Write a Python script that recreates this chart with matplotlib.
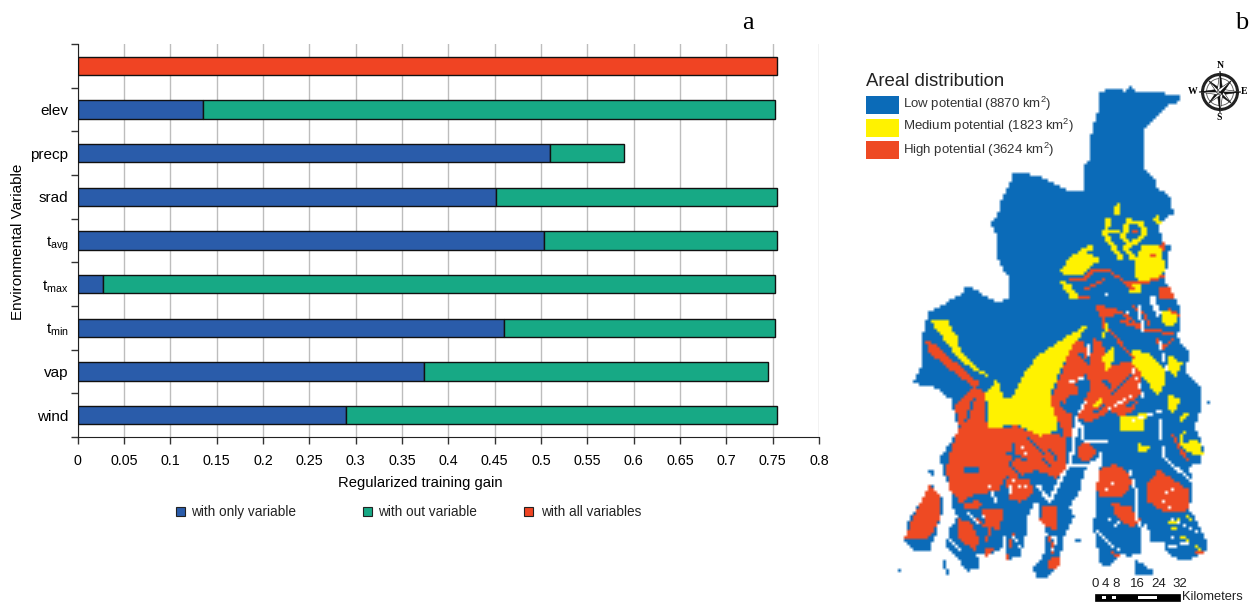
#!/usr/bin/env python3
"""Jackknife of regularized training gain (a) and areal potential map (b)."""
import numpy as np
import matplotlib
matplotlib.use('Agg')
import matplotlib.pyplot as plt
from matplotlib.patches import Rectangle, Circle, Polygon
from matplotlib.path import Path

plt.rcParams['font.family'] = ['Liberation Sans', 'DejaVu Sans']
plt.rcParams['mathtext.default'] = 'regular'

# --- panel a
variables = ['', 'elev', 'precp', 'srad', 't$_{avg}$', 't$_{max}$', 't$_{min}$', 'vap', 'wind']
only_gain = [0, 0.135, 0.51, 0.452, 0.503, 0.027, 0.46, 0.374, 0.29]
without_gain = [0, 0.617, 0.08, 0.303, 0.252, 0.725, 0.292, 0.371, 0.465]
all_gain = [0.755, 0, 0, 0, 0, 0, 0, 0, 0]
gain_ticks = [0, 0.05, 0.1, 0.15, 0.2, 0.25, 0.3, 0.35, 0.4, 0.45, 0.5, 0.55, 0.6, 0.65, 0.7, 0.75, 0.8]
gain_labels = ['0', '0.05', '0.1', '0.15', '0.2', '0.25', '0.3', '0.35', '0.4', '0.45', '0.5',
               '0.55', '0.6', '0.65', '0.7', '0.75', '0.8']

BLUE_BAR, GREEN_BAR, RED_BAR = '#2a5caa', '#17a985', '#f04423'

# --- panel b, traced from two crops of the map: "n" crop origin (850, 50), "s" crop origin (880, 320),
# both at 3x, so the numbers are easy to compare with a zoomed picture
n_outline = [(745,125),(800,115),(830,128),(835,105),(860,125),(930,125),(965,140),(985,130),(990,155),(960,165),
             (940,185),(910,215),(885,240),(885,360),(915,385),(920,410),(960,440),(970,490),(925,520),(935,570),
             (960,590),(950,650),(945,690),(985,760),(990,820)]
s_outline = [(905,10),(890,50),(930,100),(915,150),(965,210),(965,265),(945,320),(970,380),(965,425),(930,440),
             (935,500),(930,570),(985,670),(985,690),(950,710),(910,725),(860,700),(855,670),(815,670),(800,610),
             (780,640),(780,700),(750,710),(720,700),(690,740),(660,730),(650,670),(640,620),(650,540),(655,460),
             (670,410),(640,430),(615,450),(600,510),(570,560),(585,590),(550,650),(540,730),(500,770),(470,775),
             (460,740),(490,710),(500,640),(480,590),(470,540),(440,590),(440,640),(420,710),(380,720),(375,680),
             (340,700),(290,700),(300,745),(260,755),(230,710),(200,680),(205,630),(235,590),(215,560),(215,520),
             (195,470),(180,410),(210,370),(235,330),(225,290),(215,240),(160,200),(100,190),(130,120),(125,60)]
n_outline_left = [(235,785),(270,770),(335,730),(350,705),(400,735),(445,760),(475,745),(475,680),(440,625),
                  (440,560),(420,520),(440,505),(455,450),(480,400),(490,370),(560,375),(610,400),(660,425),
                  (700,420),(705,345),(720,330),(725,240),(745,180)]

s_reds = [
    [(225,260),(280,200),(310,210),(322,328),(410,318),(480,348),(520,340),(555,350),(555,420),(565,450),(530,475),
     (470,450),(390,480),(380,460),(360,510),(280,525),(240,550),(205,500),(200,440),(215,380),(240,320)],
    [(510,240),(550,150),(580,60),(615,65),(625,160),(595,180),(590,225),(565,225),(555,250),(575,290),(585,345),
     (555,350),(525,285)],
    [(618,160),(645,60),(665,60),(685,140),(720,125),(775,125),(785,200),(765,270),(720,290),(690,270),(650,300),
     (620,305),(590,290),(620,230),(635,200)],
    [(590,380),(620,360),(650,390),(630,425),(600,425)],
    [(660,450),(700,432),(740,450),(755,490),(725,535),(660,535),(650,500)],
    [(805,490),(835,450),(880,480),(930,510),(925,570),(860,580),(805,545)],
    [(690,545),(750,560),(785,600),(755,625),(710,590)],
    [(380,480),(450,480),(462,520),(420,548),(385,535)],
    [(235,595),(270,605),(302,660),(282,692),(232,650)],
    [(490,555),(532,555),(532,630),(500,622),(480,600)],
    [(305,570),(372,570),(358,635),(320,612)],
    [(500,718),(545,708),(532,748),(505,748)],
    [(135,60),(160,70),(230,130),(300,190),(280,205),(225,160),(150,100)],
    [(310,690),(340,680),(335,705),(315,708)],
    [(250,550),(310,540),(300,565),(260,570)],
]
n_reds = [
    [(925,715),(965,715),(972,748),(930,748)],
    [(740,768),(800,772),(795,800),(745,798)],
    [(935,570),(950,585),(945,605),(930,590)],
    [(900,610),(920,610),(920,625),(900,625)],
]
s_yellows = [
    [(318,215),(350,180),(375,240),(400,230),(425,170),(470,110),(530,70),(600,25),(628,8),(600,50),(570,90),
     (540,155),(508,232),(530,300),(535,332),(480,348),(410,315),(325,325)],
    [(150,0),(200,0),(230,50),(245,100),(300,150),(330,170),(310,165),(250,130),(215,90),(170,30)],
    [(760,90),(810,100),(850,140),(860,190),(830,225),(795,180),(760,130)],
    [(870,100),(905,130),(885,170),(860,150)],
    [(665,110),(700,80),(705,125),(680,150)],
    [(860,220),(900,240),(880,280),(860,260)],
    [(720,290),(800,280),(790,330),(720,330)],
    [(775,370),(810,380),(800,400),(770,395)],
    [(900,370),(955,360),(972,410),(930,400)],
    [(640,250),(665,235),(660,262),(642,265)],
]
n_yellows = [
    [(630,660),(660,625),(720,610),(750,630),(700,670),(650,680)],
    [(630,695),(660,700),(690,745),(660,745)],
    [(850,640),(880,580),(930,590),(945,650),(930,690),(890,700),(860,690)],
    [(930,780),(980,790),(975,830),(935,820)],
    [(830,700),(880,700),(870,725),(835,725)],
]
n_yellow_veins = [
    [(820,560),(835,515),(870,520),(888,540),(870,565),(840,585),(820,560)],
    [(775,510),(765,555),(790,590),(810,620)],
    [(800,490),(805,468)],
    [(660,630),(690,610),(720,595)],
    [(760,545),(800,545)],
    [(825,590),(850,625)],
    [(920,505),(925,515)],
]
s_yellow_veins = [
    [(870,610),(900,600)], [(905,650),(925,660)], [(900,300),(920,280)], [(910,340),(900,380)],
    [(680,15),(670,50)], [(925,590),(935,600)], [(950,680),(960,695)], [(870,630),(885,625)],
]
n_red_veins = [
    [(660,690),(700,690),(730,660),(780,665),(830,700),(850,720)],
    [(700,720),(760,690)],
    [(790,775),(830,800),(870,830)],
    [(830,700),(880,700),(940,680)],
    [(850,770),(880,790),(900,830)],
    [(960,780),(990,800)],
    [(845,548),(865,548)],
    [(690,745),(720,740)],
    [(755,790),(760,830)],
]
s_red_veins = [
    [(720,0),(770,20)], [(800,30),(880,40)], [(830,60),(850,90)], [(690,30),(730,80),(760,110)],
    [(880,350),(920,420)], [(840,90),(880,60)], [(640,60),(660,110)], [(945,700),(965,700)],
    [(270,590),(320,620)], [(340,600),(320,660)], [(400,640),(390,680)], [(520,700),(510,650)],
    [(715,710),(700,700)], [(380,710),(385,720)],
]
s_blue_veins = [
    [(250,450),(300,450)], [(380,400),(440,420)], [(440,350),(490,400)], [(510,390),(530,420)],
    [(545,250),(565,275)], [(590,190),(610,200)], [(670,180),(690,200)], [(640,280),(670,260)],
    [(390,430),(420,470)], [(260,300),(280,240)], [(700,220),(750,170)], [(280,535),(360,560)],
    [(770,350),(830,340)], [(600,100),(625,130)], [(700,130),(730,125)], [(230,170),(260,190)],
    [(400,370),(400,420)], [(490,420),(510,440)], [(740,260),(770,240)],
]
s_white_rivers = [
    ([(590,300),(580,380),(570,430),(540,480),(510,540),(475,500)], 4),
    ([(590,300),(610,330),(610,360),(680,365)], 3),
    ([(570,430),(600,440),(640,430)], 3),
    ([(175,440),(205,530),(205,580),(190,680)], 4),
    ([(840,300),(850,410),(930,480)], 2.5),
    ([(750,450),(770,520),(770,600),(800,640)], 2.5),
    ([(650,630),(700,680),(720,690)], 2),
    ([(370,640),(375,690)], 2),
    ([(260,570),(300,620)], 2),
    ([(400,480),(385,530)], 2),
    ([(330,500),(350,550)], 2),
    ([(620,240),(590,290)], 2),
    ([(680,270),(750,230)], 2),
    ([(760,150),(790,230)], 2),
    ([(630,60),(620,120)], 2),
    ([(760,300),(850,270)], 2),
    ([(210,660),(240,690)], 2),
    ([(560,190),(620,170)], 2),
    ([(840,70),(860,150)], 2),
    ([(720,600),(700,620)], 2),
    ([(880,600),(960,640)], 2),
    ([(870,680),(920,670)], 2),
    ([(400,650),(420,680)], 2),
    ([(530,650),(520,690)], 2),
]
n_white_rivers = [
    ([(870,770),(875,840)], 3),
    ([(905,745),(925,790)], 6),
]
s_white_bays = [
    [(640,430),(665,395),(650,460),(645,540),(640,620),(650,690),(660,800),(560,800),(540,740),(550,660),(590,590),
     (575,560),(610,490),(615,450)],
]
s_white_specks = [(820,520),(860,520),(880,510),(700,490),(720,480),(850,545),(900,545),(730,600),(690,600),
                  (440,400),(430,380),(740,190),(765,210),(790,260),(800,300),(520,650),(540,660),(250,640),(880,650),
                  (930,640),(900,680),(720,640),(650,170),(720,170),(780,180),(840,505),(890,510),(870,560),(680,510),
                  (710,515),(270,650),(310,590),(420,500),(440,500)]
n_white_specks = [(800,740),(910,750),(770,730),(830,790),(880,640),(780,540),(790,575)]
s_islands = [
    [(150,490),(185,530),(190,570),(165,650),(150,690),(100,695),(75,660),(80,610),(125,540)],
    [(770,720),(815,750),(820,768),(770,765),(760,740)],
    [(460,735),(490,730),(500,770),(470,775)],
]
s_island_red = [(150,495),(183,530),(180,590),(150,650),(110,660),(75,655),(100,590)]
s_blue_bits = [[(190,725),(205,760)], [(55,750),(60,750)], [(150,450),(160,465)], [(985,245),(990,245)], [(590,660),(595,660)]]

LOW_COLOR, MEDIUM_COLOR, HIGH_COLOR = '#0b6bb8', '#fff200', '#ee4a23'
potential_labels = ['Low potential (8870 km$^{2}$)', 'Medium potential (1823 km$^{2}$)', 'High potential (3624 km$^{2}$)']
scale_labels = ['0', '4', '8', '16', '24', '32']
scale_positions = [0, 4, 8, 16, 24, 32]


def n_px(pts):
    return [(850 + x / 3, 50 + y / 3) for x, y in pts]


def s_px(pts):
    return [(880 + x / 3, 320 + y / 3) for x, y in pts]


def fill_poly(grid, xx, yy, poly, code):
    inside = Path(poly).contains_points(np.column_stack([xx.ravel(), yy.ravel()])).reshape(xx.shape)
    grid[inside] = code


def stroke(grid, xx, yy, pts, width, code):
    if len(pts) == 1:
        pts = pts * 2
    for (x0, y0), (x1, y1) in zip(pts[:-1], pts[1:]):
        dx, dy = x1 - x0, y1 - y0
        t = np.clip(((xx - x0) * dx + (yy - y0) * dy) / max(dx * dx + dy * dy, 1e-6), 0, 1)
        grid[np.hypot(xx - x0 - t * dx, yy - y0 - t * dy) <= width / 2] = code


def potential_grid():
    cell = 3
    xs = np.arange(880, 1225, cell) + cell / 2
    ys = np.arange(80, 590, cell) + cell / 2
    xx, yy = np.meshgrid(xs, ys)
    grid = np.zeros(xx.shape, dtype=int)
    fill_poly(grid, xx, yy, n_px(n_outline) + s_px(s_outline) + n_px(n_outline_left), 1)
    for p in s_reds:
        fill_poly(grid, xx, yy, s_px(p), 3)
    for p in s_yellows:
        fill_poly(grid, xx, yy, s_px(p), 2)
    for p in n_yellows:
        fill_poly(grid, xx, yy, n_px(p), 2)
    for p in n_reds:
        fill_poly(grid, xx, yy, n_px(p), 3)
    for p in n_yellow_veins:
        stroke(grid, xx, yy, n_px(p), 5, 2)
    for p in s_yellow_veins:
        stroke(grid, xx, yy, s_px(p), 3, 2)
    for p in n_red_veins:
        stroke(grid, xx, yy, n_px(p), 3, 3)
    for p in s_red_veins:
        stroke(grid, xx, yy, s_px(p), 3, 3)
    for p in s_blue_veins:
        stroke(grid, xx, yy, s_px(p), 3, 1)
    for p in s_white_bays:
        fill_poly(grid, xx, yy, s_px(p), 0)
    for p, w in s_white_rivers:
        stroke(grid, xx, yy, s_px(p), w, 0)
    for p, w in n_white_rivers:
        stroke(grid, xx, yy, n_px(p), w, 0)
    for p in s_islands:
        fill_poly(grid, xx, yy, s_px(p), 1)
    fill_poly(grid, xx, yy, s_px(s_island_red), 3)
    for p in s_blue_bits:
        stroke(grid, xx, yy, s_px(p), 3, 1)
    for p in s_white_specks:
        stroke(grid, xx, yy, s_px([p]), 2.5, 0)
    for p in n_white_specks:
        stroke(grid, xx, yy, n_px([p]), 2.5, 0)
    return grid


def draw_gain(fig):
    ax = fig.add_axes([77.5 / 1256, 1 - 437 / 604, (819 - 77.5) / 1256, (437 - 44) / 604])
    y = np.arange(len(variables))
    h = 0.42
    ax.barh(y, only_gain, h, color=BLUE_BAR, edgecolor='#111111', linewidth=1, zorder=3)
    ax.barh(y, without_gain, h, left=only_gain, color=GREEN_BAR, edgecolor='#111111', linewidth=1, zorder=3)
    ax.barh(y[0], all_gain[0], h, color=RED_BAR, edgecolor='#111111', linewidth=1, zorder=3)
    ax.set_xlim(0, 0.8)
    ax.set_ylim(len(variables) - 0.5, -0.5)
    ax.set_xticks(gain_ticks)
    ax.set_xticklabels(gain_labels, fontsize=10.3)
    ax.set_yticks(np.arange(len(variables) + 1) - 0.5)
    ax.set_yticklabels([])
    ax.set_yticks(y, minor=True)
    ax.set_yticklabels(variables, minor=True, fontsize=11)
    ax.tick_params(axis='y', which='minor', length=0, pad=6.5)
    ax.tick_params(axis='y', which='major', length=5, width=1, color='#333333')
    ax.tick_params(axis='x', length=5, width=1, color='#333333', pad=7)
    ax.grid(axis='x', color='#bdbdbd', linewidth=1, zorder=0)
    ax.set_axisbelow(True)
    ax.spines['top'].set_visible(False)
    ax.spines['right'].set_visible(False)
    ax.spines['left'].set_color('#222222')
    ax.spines['bottom'].set_color('#222222')
    ax.set_xlabel('Regularized training gain', fontsize=10.6)
    ax.xaxis.set_label_coords((420 - 77.5) / (819 - 77.5), -39 / 393, transform=ax.transAxes)
    ax.set_ylabel('Environmental Variable', fontsize=11)
    ax.yaxis.set_label_coords(-53 / 741.5, (437 - 242) / 393, transform=ax.transAxes)


def draw_overlay(fig):
    ov = fig.add_axes([0, 0, 1, 1])
    ov.axis('off')
    ov.patch.set_alpha(0)

    ov.text(748, 23, 'a', family='Liberation Serif', fontsize=19, ha='center', va='center')
    ov.text(1242, 23, 'b', family='Liberation Serif', fontsize=19, ha='center', va='center')

    for x, tx, c, lab in [(176, 191, BLUE_BAR, 'with only variable'),
                          (362.5, 378, GREEN_BAR, 'with out variable'),
                          (524, 541, RED_BAR, 'with all variables')]:
        ov.add_patch(Rectangle((x, 507), 9, 9, facecolor=c, edgecolor='#222222', linewidth=0.8))
        ov.text(tx, 512, lab, fontsize=9.8, va='center', color='#222222')

    grid = potential_grid()
    palette = np.array([[255, 255, 255], [11, 107, 184], [255, 242, 0], [238, 74, 35]], dtype=np.uint8)
    ov.imshow(palette[grid], extent=(880, 880 + 3 * grid.shape[1], 80 + 3 * grid.shape[0], 80),
              interpolation='bilinear', aspect='auto', zorder=1)
    ov.set_xlim(0, 1256)
    ov.set_ylim(604, 0)

    ov.text(866, 81, 'Areal distribution', fontsize=13.4, va='center', color='#222222', zorder=3)
    for yb, yt, c, lab in zip([96, 119, 141], [103.5, 125.5, 149.5], [LOW_COLOR, MEDIUM_COLOR, HIGH_COLOR], potential_labels):
        ov.add_patch(Rectangle((866, yb), 33, 18, facecolor=c, edgecolor='none', zorder=3))
        ov.text(903, yt, lab, fontsize=9.5, va='center', color='#333333', zorder=3)

    # compass rose
    cx, cy, r = 1220, 92, 21
    ov.add_patch(Circle((cx, cy), 17.5, fill=False, edgecolor='#222222', linewidth=2.2, zorder=3))
    ov.add_patch(Circle((cx, cy), 13.5, fill=False, edgecolor='#555555', linewidth=0.6, zorder=3))
    for ang in np.arange(0, 360, 45):
        a = np.deg2rad(ang)
        ln = r if ang % 90 == 0 else r * 0.75
        tip = (cx + ln * np.cos(a), cy + ln * np.sin(a))
        side = (cx + 3 * np.cos(a + np.pi / 2), cy + 3 * np.sin(a + np.pi / 2))
        other = (cx - 3 * np.cos(a + np.pi / 2), cy - 3 * np.sin(a + np.pi / 2))
        ov.add_patch(Polygon([tip, side, (cx, cy)], facecolor='#111111', edgecolor='#111111', linewidth=0.4, zorder=4))
        ov.add_patch(Polygon([tip, other, (cx, cy)], facecolor='white', edgecolor='#111111', linewidth=0.4, zorder=4))
    for t, x, y in [('N', 1220, 65), ('S', 1219, 118), ('W', 1193, 91), ('E', 1244, 92)]:
        ov.text(x, y, t, family='Liberation Serif', fontweight='bold', fontsize=7, ha='center', va='center', zorder=4)

    # scale bar
    x0, per_km, yb = 1095, 85 / 32, 593.5
    ov.add_patch(Rectangle((x0, yb), 85, 7, facecolor='black', edgecolor='black', linewidth=0.5, zorder=3))
    for a, b in [(2.6, 4.2), (6.5, 8), (16, 23.4)]:
        ov.add_patch(Rectangle((x0 + a * per_km, yb + 2), (b - a) * per_km, 3, facecolor='white', edgecolor='none', zorder=4))
    for lab, km in zip(scale_labels, scale_positions):
        ov.text(x0 + km * per_km, 584, lab, fontsize=9.5, ha='center', va='center', color='#222222', zorder=3)
    ov.text(1182, 597, 'Kilometers', fontsize=9.3, va='center', color='#222222', zorder=3)


def main():
    fig = plt.figure(figsize=(12.56, 6.04), dpi=100, facecolor='white')
    draw_gain(fig)
    draw_overlay(fig)
    fig.savefig('out.png', dpi=100)
    plt.close(fig)


if __name__ == '__main__':
    main()
